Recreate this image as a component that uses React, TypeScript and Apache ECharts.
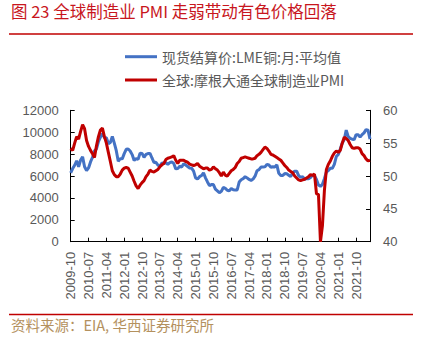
import React, { useEffect, useRef } from 'react';
import * as echarts from 'echarts';

const startYear = 2009;
const startMonth = 10;

// LME copper monthly average (USD/t), 2009-10 .. 2022-05
const copper = [
  6288, 6676, 6982,
  7386, 6848, 7463, 7745, 6838, 6499, 6735, 7284, 7709, 8292, 8469, 9147,
  9556, 9868, 9503, 9493, 8960, 9067, 9620, 8998, 8314, 7350, 7581, 7566,
  8041, 8441, 8471, 8289, 7955, 7423, 7584, 7515, 8088, 8062, 7711, 7966,
  8047, 8060, 7646, 7234, 7249, 7000, 6907, 7186, 7159, 7203, 7071, 7215,
  7291, 7149, 6650, 6674, 6891, 6821, 7113, 7002, 6872, 6737, 6713, 6446,
  5831, 5729, 5940, 6042, 6295, 5833, 5457, 5127, 5217, 5216, 4800, 4639,
  4472, 4599, 4954, 4873, 4695, 4642, 4864, 4751, 4722, 4731, 5450, 5660,
  5755, 5941, 5824, 5684, 5600, 5720, 5985, 6480, 6583, 6817, 6823, 6834,
  7066, 7006, 6800, 6843, 6825, 7018, 6248, 6052, 6050, 6219, 6196, 6073,
  5939, 6298, 6439, 6439, 6036, 5871, 5943, 5709, 5760, 5741, 5861, 6078,
  6031, 5689, 5183, 5058, 5239, 5755, 6372, 6496, 6705, 6702, 7068, 7772,
  7970, 8460, 9005, 9336, 10184, 9612, 9433, 9357, 9324, 9778, 9765, 9551,
  9777, 9941, 10237, 10183, 9363,
];

// JPMorgan global manufacturing PMI, 2009-10 .. 2022-05
const pmi = [
  54.2, 53.9, 55.0,
  56.0, 55.6, 56.8, 57.8, 57.2, 55.4, 54.5, 53.9, 53.4, 52.8, 54.6, 56.0,
  57.0, 57.3, 56.0, 55.0, 53.6, 52.2, 50.8, 50.2, 49.9, 49.9, 50.3, 50.9,
  51.2, 51.3, 51.2, 50.6, 50.0, 49.2, 48.5, 48.1, 48.6, 49.0, 49.3, 49.9,
  50.3, 50.9, 50.7, 50.6, 50.8, 51.0, 51.4, 51.7, 51.9, 52.5, 52.7, 52.8,
  52.9, 53.1, 52.4, 51.9, 52.4, 52.4, 52.4, 52.2, 52.1, 51.8, 51.7, 51.6,
  51.7, 51.9, 51.5, 51.3, 51.1, 51.2, 51.2, 50.9, 51.0, 51.4, 51.1, 50.9,
  50.5, 50.0, 50.6, 50.1, 50.0, 50.4, 50.8, 51.0, 51.3, 51.9, 52.2, 52.7,
  52.8, 52.9, 52.8, 52.7, 52.6, 52.6, 52.7, 53.1, 53.3, 53.6, 54.0, 54.4,
  54.2, 53.8, 53.3, 53.2, 53.0, 52.8, 52.6, 52.4, 52.0, 51.6, 51.3, 50.9,
  50.7, 50.5, 50.0, 49.7, 49.4, 49.3, 49.4, 49.5, 49.7, 49.9, 50.2, 50.1,
  50.3, 47.3, 47.2, 40.0, 42.4, 47.8, 51.0, 51.8, 52.3, 53.0, 53.5, 53.8,
  53.6, 53.9, 55.0, 55.9, 55.7, 55.4, 54.8, 54.3, 54.2, 54.3, 54.3, 54.1,
  53.4, 53.1, 52.6, 52.3, 52.4,
];

const months: string[] = copper.map((_, i) => {
  const m = startMonth - 1 + i;
  const y = startYear + Math.floor(m / 12);
  const mm = (m % 12) + 1;
  return `${y}-${String(mm).padStart(2, '0')}`;
});

const seriesNames = ['现货结算价:LME铜:月:平均值', '全球:摩根大通全球制造业PMI'];
const titleText = '图 23 全球制造业 PMI 走弱带动有色价格回落';
const sourceText = '资料来源：EIA, 华西证券研究所';

const CJK = '"Noto Sans CJK SC", "Liberation Sans", sans-serif';
const NUM = '"Liberation Sans", Arial, sans-serif';

export default function App() {
  const ref = useRef<HTMLDivElement>(null);
  useEffect(() => {
    if (!ref.current) return;
    const chart = echarts.init(ref.current, undefined, { renderer: 'svg' });
    chart.setOption({
      animation: false,
      backgroundColor: '#ffffff',
      grid: { left: 70.7, right: 51, top: 110.3, bottom: 98.3, containLabel: false },
      legend: {
        orient: 'vertical',
        left: 120,
        top: 43.7,
        itemWidth: 32,
        itemHeight: 3,
        itemGap: 7.3,
        icon: 'rect',
        textStyle: { fontSize: 14, color: '#595959', fontFamily: CJK, lineHeight: 16 },
        data: seriesNames,
      },
      xAxis: {
        type: 'category',
        data: months,
        boundaryGap: false,
        axisLine: { lineStyle: { color: '#000', width: 1 } },
        axisTick: { inside: true, length: 4, interval: 8, lineStyle: { color: '#000' } },
        axisLabel: {
          interval: 8,
          rotate: 90,
          margin: 10,
          fontSize: 13,
          color: '#595959',
          fontFamily: NUM,
        },
        splitLine: { show: false },
      },
      yAxis: [
        {
          type: 'value',
          min: 0,
          max: 12000,
          interval: 2000,
          axisLine: { show: true, lineStyle: { color: '#000', width: 1 } },
          axisTick: { show: true, inside: true, length: 4, lineStyle: { color: '#000' } },
          axisLabel: {
            margin: 12,
            fontSize: 13,
            color: '#595959',
            fontFamily: NUM,
            formatter: (v: number) => String(v),
          },
          splitLine: { show: false },
        },
        {
          type: 'value',
          min: 40,
          max: 60,
          interval: 5,
          position: 'right',
          axisLine: { show: true, lineStyle: { color: '#000', width: 1 } },
          axisTick: { show: true, inside: true, length: 4, lineStyle: { color: '#000' } },
          axisLabel: {
            margin: 13,
            fontSize: 13,
            color: '#595959',
            fontFamily: NUM,
            formatter: (v: number) => String(v),
          },
          splitLine: { show: false },
        },
      ],
      series: [
        {
          name: seriesNames[0],
          type: 'line',
          yAxisIndex: 0,
          data: copper,
          showSymbol: false,
          symbol: 'none',
          lineStyle: { color: '#4472C4', width: 3 },
          itemStyle: { color: '#4472C4' },
        },
        {
          name: seriesNames[1],
          type: 'line',
          yAxisIndex: 1,
          data: pmi,
          showSymbol: false,
          symbol: 'none',
          lineStyle: { color: '#C00000', width: 3 },
          itemStyle: { color: '#C00000' },
        },
      ],
      graphic: [
        {
          type: 'text',
          left: 11,
          top: 3,
          style: { text: titleText, fontSize: 16.5, fill: '#C8161D', fontFamily: CJK },
        },
        {
          type: 'line',
          shape: { x1: 9, y1: 34, x2: 413, y2: 34 },
          style: { stroke: '#C00000', lineWidth: 1.5 },
        },
        {
          type: 'line',
          shape: { x1: 9, y1: 314.5, x2: 413, y2: 314.5 },
          style: { stroke: '#C00000', lineWidth: 1.5 },
        },
        {
          type: 'text',
          left: 11,
          top: 317,
          style: { text: sourceText, fontSize: 14.5, fill: '#B4915E', fontFamily: CJK },
        },
      ],
    });
    return () => chart.dispose();
  }, []);
  return (
    <div
      ref={ref}
      style={{ position: 'fixed', left: 0, top: 0, width: 421, height: 340, background: '#fff' }}
    />
  );
}
